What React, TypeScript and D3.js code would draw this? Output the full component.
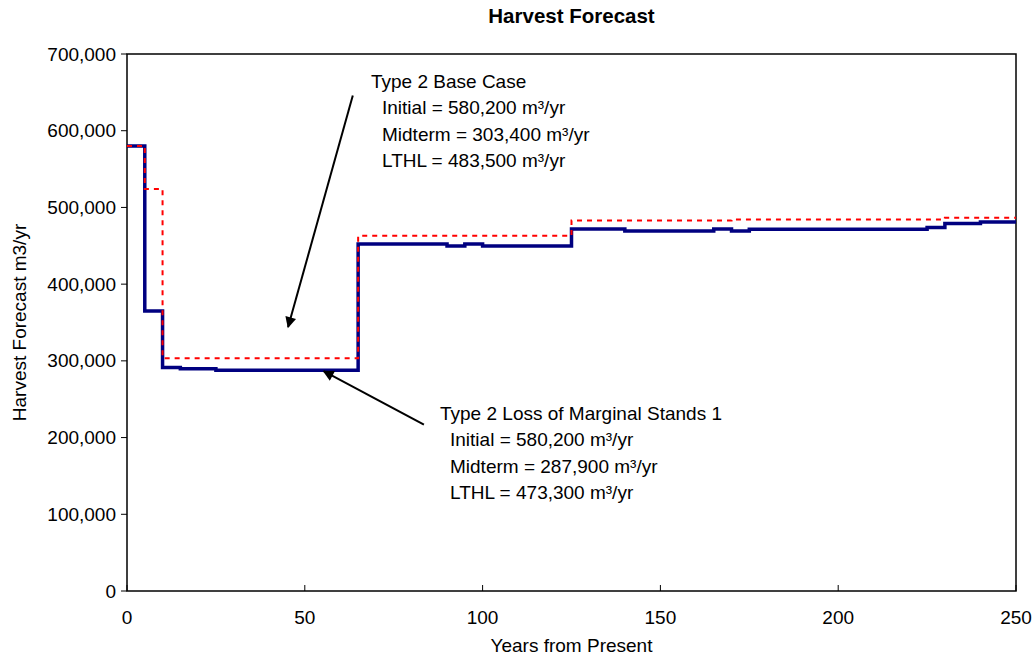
import * as d3 from 'd3'

// step series (value holds from this year until the next one)
const lossYears = [0, 5, 10, 15, 25, 65, 90, 95, 100, 125, 140, 165, 170, 175, 225, 230, 240, 250]
const lossValues = [580200, 365000, 291500, 289600, 287900, 452400, 449800, 452400, 449800, 471900, 469400, 471900, 469400, 471600, 473700, 479000, 481000, 481000]

const baseYears = [0, 5, 10, 65, 125, 170, 230, 250]
const baseValues = [580200, 524000, 303400, 463000, 482800, 484200, 486500, 486500]

const xTicks = [0, 50, 100, 150, 200, 250]
const yTicks = [0, 100000, 200000, 300000, 400000, 500000, 600000, 700000]

const baseNotes = [
  'Type 2 Base Case',
  'Initial = 580,200 m³/yr',
  'Midterm = 303,400 m³/yr',
  'LTHL = 483,500 m³/yr'
]
const lossNotes = [
  'Type 2 Loss of Marginal Stands 1',
  'Initial = 580,200 m³/yr',
  'Midterm = 287,900 m³/yr',
  'LTHL = 473,300 m³/yr'
]

const W = 1036
const H = 660
const margin = { top: 54, right: 20, bottom: 69, left: 127 }
const font = '"Liberation Sans", Arial, sans-serif'

export default function App() {
  const x = d3.scaleLinear().domain([0, 250]).range([margin.left, W - margin.right])
  const y = d3.scaleLinear().domain([0, 700000]).range([H - margin.bottom, margin.top])

  const line = d3.line<[number, number]>()
    .x(d => x(d[0]))
    .y(d => y(d[1]))
    .curve(d3.curveStepAfter)

  const lossPath = line(lossYears.map((yr, i) => [yr, lossValues[i]]))
  const basePath = line(baseYears.map((yr, i) => [yr, baseValues[i]]))

  const fmt = d3.format(',')
  const plotW = x(250) - x(0)
  const plotH = y(0) - y(700000)

  // annotation anchors in data units
  const arrow1 = { x1: x(63.5), y1: y(646000), x2: x(45.3), y2: y(344000) }
  const arrow2 = { x1: x(83.5), y1: y(217000), x2: x(55.3), y2: y(286500) }

  return (
    <svg
      width={W}
      height={H}
      viewBox={`0 0 ${W} ${H}`}
      style={{ position: 'absolute', left: 0, top: 0, background: '#fff', fontFamily: font }}
    >
      <defs>
        <marker id="arr" viewBox="0 0 10 10" refX="9" refY="5" markerWidth="6" markerHeight="5.5" orient="auto" markerUnits="strokeWidth">
          <path d="M0,0 L10,5 L0,10 z" fill="#000" />
        </marker>
      </defs>
      <rect x={0} y={0} width={W} height={H} fill="#fff" />

      <text x={(x(0) + x(250)) / 2} y={23} textAnchor="middle" fontWeight="bold" fontSize={20.5} fill="#000">
        Harvest Forecast
      </text>

      {/* y ticks */}
      {yTicks.map(t => (
        <g key={t}>
          <line x1={x(0) - 6} x2={x(0)} y1={y(t)} y2={y(t)} stroke="#000" strokeWidth={1} />
          <text x={x(0) - 11} y={y(t) + 6.5} textAnchor="end" fontSize={19} fill="#000">{fmt(t)}</text>
        </g>
      ))}

      {/* x ticks */}
      {xTicks.map(t => (
        <g key={t}>
          <line x1={x(t)} x2={x(t)} y1={y(0)} y2={y(0) - 6} stroke="#000" strokeWidth={1} />
          <text x={x(t)} y={y(0) + 33} textAnchor="middle" fontSize={19} fill="#000">{t}</text>
        </g>
      ))}

      <rect x={x(0)} y={y(700000)} width={plotW} height={plotH} fill="none" stroke="#000" strokeWidth={1.5} />

      <text x={(x(0) + x(250)) / 2} y={652} textAnchor="middle" fontSize={19} fill="#000">Years from Present</text>
      <text transform={`translate(26, ${(y(0) + y(700000)) / 2}) rotate(-90)`} textAnchor="middle" fontSize={19} fill="#000">
        Harvest Forecast m3/yr
      </text>

      <path d={lossPath} fill="none" stroke="#000080" strokeWidth={3.5} />
      <path d={basePath} fill="none" stroke="#ff0000" strokeWidth={2} strokeDasharray="5,5" />

      <line {...arrow1} stroke="#000" strokeWidth={2} markerEnd="url(#arr)" />
      <line {...arrow2} stroke="#000" strokeWidth={2} markerEnd="url(#arr)" />

      {baseNotes.map((s, i) => (
        <text key={s} x={i === 0 ? 371 : 382} y={88 + i * 26.3} fontSize={19} fill="#000">{s}</text>
      ))}
      {lossNotes.map((s, i) => (
        <text key={s + i} x={i === 0 ? 440 : 450} y={420 + i * 26.3} fontSize={19} fill="#000">{s}</text>
      ))}
    </svg>
  )
}
